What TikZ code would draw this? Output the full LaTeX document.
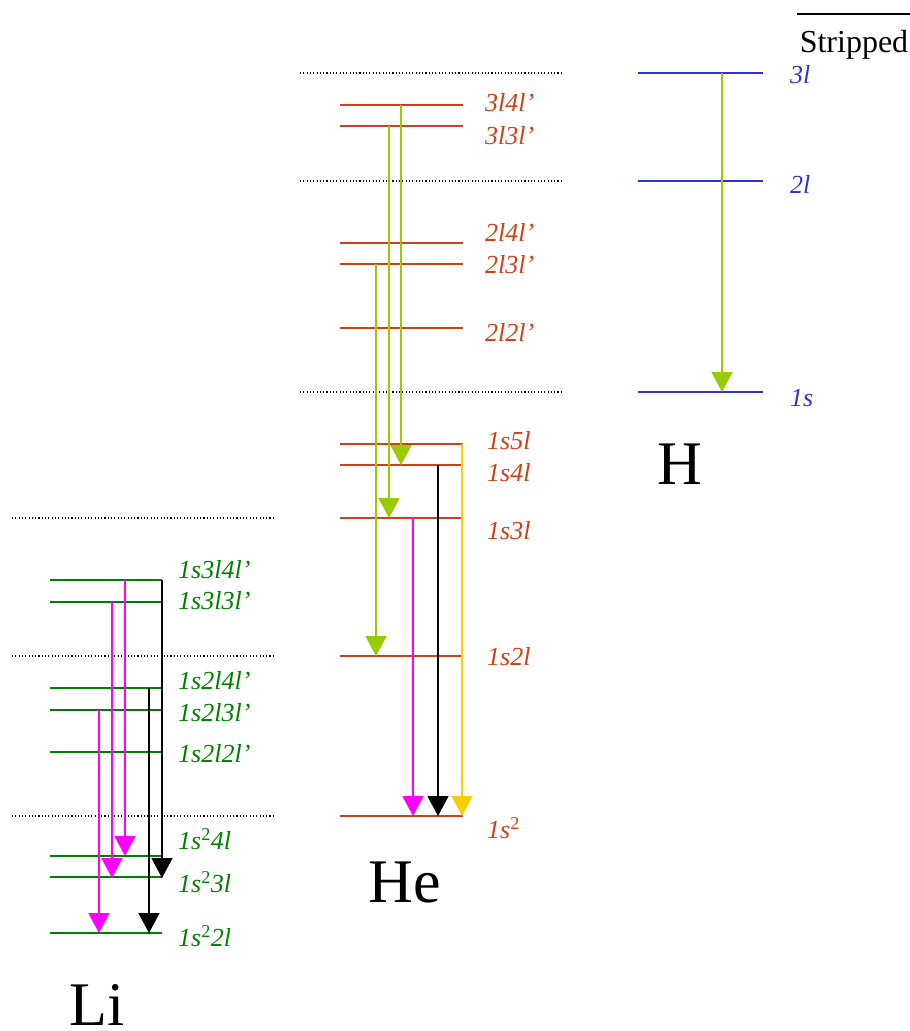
\documentclass[tikz,border=0pt]{standalone}
\usepackage{fontspec}
\setmainfont{Liberation Serif}
\usetikzlibrary{arrows.meta}
\definecolor{hered}{RGB}{208,64,24}
\definecolor{ligreen}{RGB}{0,128,0}
\definecolor{hblue}{RGB}{51,51,204}
\definecolor{agreen}{RGB}{153,204,0}
\definecolor{amag}{RGB}{255,0,255}
\definecolor{agold}{RGB}{255,204,0}
\tikzset{
  lev/.style={line width=1.6pt},
  sep/.style={line width=1.1pt, dash pattern=on 1.1pt off 2.2pt},
  lab/.style={anchor=west, inner sep=0pt, font=\fontsize{26}{29}\selectfont\itshape},
  big/.style={inner sep=0pt, font=\fontsize{62}{70}\selectfont},
  tr/.style={line width=1.6pt, -{Triangle[width=21pt,length=20pt]}},
}
\begin{document}
\begin{tikzpicture}[x=1pt,y=-1pt]
\useasboundingbox (0,0) rectangle (910,1031);
% separators
\foreach \y in {73,181,392} \draw[sep] (300,\y) -- (562,\y);
\foreach \y in {518,656,816} \draw[sep] (12,\y) -- (275,\y);
% Stripped
\draw[line width=1.4pt] (797,14) -- (910,14);
\node[inner sep=0pt, font=\fontsize{32}{36}\selectfont] (strip) at (854,45) {Stripped};
% He levels
\foreach \y in {105,126,243,264,328,444,465,518,656,816} \draw[lev,hered] (340,\y) -- (463,\y);
\begin{scope}[hered]
\node[lab] (he1) at (485,103) {3l4l’};
\node[lab] (he2) at (485,136) {3l3l’};
\node[lab] (he3) at (485,232) {2l4l’};
\node[lab] (he4) at (485,265) {2l3l’};
\node[lab] (he5) at (485,332) {2l2l’};
\node[lab] (he6) at (487,441) {1s5l};
\node[lab] (he7) at (487,473) {1s4l};
\node[lab] (he8) at (487,531) {1s3l};
\node[lab] (he9) at (487,657) {1s2l};
\node[lab] (he10) at (487,828) {1s$^{\mathrm{2}}$};
\end{scope}
% H levels
\foreach \y in {73,181,392} \draw[lev,hblue] (638,\y) -- (763,\y);
\begin{scope}[hblue]
\node[lab] (h1) at (790,75) {3l};
\node[lab] (h2) at (790,184) {2l};
\node[lab] (h3) at (790,398) {1s};
\end{scope}
% Li levels
\foreach \y in {580,602,688,710,752,856,877,933} \draw[lev,ligreen] (50,\y) -- (162,\y);
\begin{scope}[ligreen]
\node[lab] (li1) at (178,570) {1s3l4l’};
\node[lab] (li2) at (178,601) {1s3l3l’};
\node[lab] (li3) at (178,681) {1s2l4l’};
\node[lab] (li4) at (178,713) {1s2l3l’};
\node[lab] (li5) at (178,754) {1s2l2l’};
\node[lab] (li6) at (178,839) {1s$^{\mathrm{2}}$4l};
\node[lab] (li7) at (178,882) {1s$^{\mathrm{2}}$3l};
\node[lab] (li8) at (178,936) {1s$^{\mathrm{2}}$2l};
\end{scope}
% big labels
\node[big] (He) at (405,882) {He};
\node[big] (Li) at (97,1005) {Li};
\node[big] (H) at (680,464) {H};
% arrow coordinates
\coordinate (a1s) at (401,105); \coordinate (a1e) at (401,465);
\coordinate (a2s) at (389,126); \coordinate (a2e) at (389,518);
\coordinate (a3s) at (376,264); \coordinate (a3e) at (376,656);
\coordinate (a4s) at (413,518); \coordinate (a4e) at (413,816);
\coordinate (a5s) at (438,465); \coordinate (a5e) at (438,816);
\coordinate (a6s) at (462,444); \coordinate (a6e) at (462,816);
\coordinate (a7s) at (722,73);  \coordinate (a7e) at (722,392);
\coordinate (b1s) at (125,580); \coordinate (b1e) at (125,856);
\coordinate (b2s) at (112,602); \coordinate (b2e) at (112,878);
\coordinate (b3s) at (99,710);  \coordinate (b3e) at (99,933);
\coordinate (b4s) at (162,580); \coordinate (b4e) at (162,878);
\coordinate (b5s) at (149,688); \coordinate (b5e) at (149,933);
% arrows
\draw[tr,agreen] (a1s) -- (a1e);
\draw[tr,agreen] (a2s) -- (a2e);
\draw[tr,agreen] (a3s) -- (a3e);
\draw[tr,amag] (a4s) -- (a4e);
\draw[tr,black] (a5s) -- (a5e);
\draw[tr,agold] (a6s) -- (a6e);
\draw[tr,agreen] (a7s) -- (a7e);
\draw[tr,amag] (b1s) -- (b1e);
\draw[tr,amag] (b2s) -- (b2e);
\draw[tr,amag] (b3s) -- (b3e);
\draw[tr,black] (b4s) -- (b4e);
\draw[tr,black] (b5s) -- (b5e);
\end{tikzpicture}
\end{document}
